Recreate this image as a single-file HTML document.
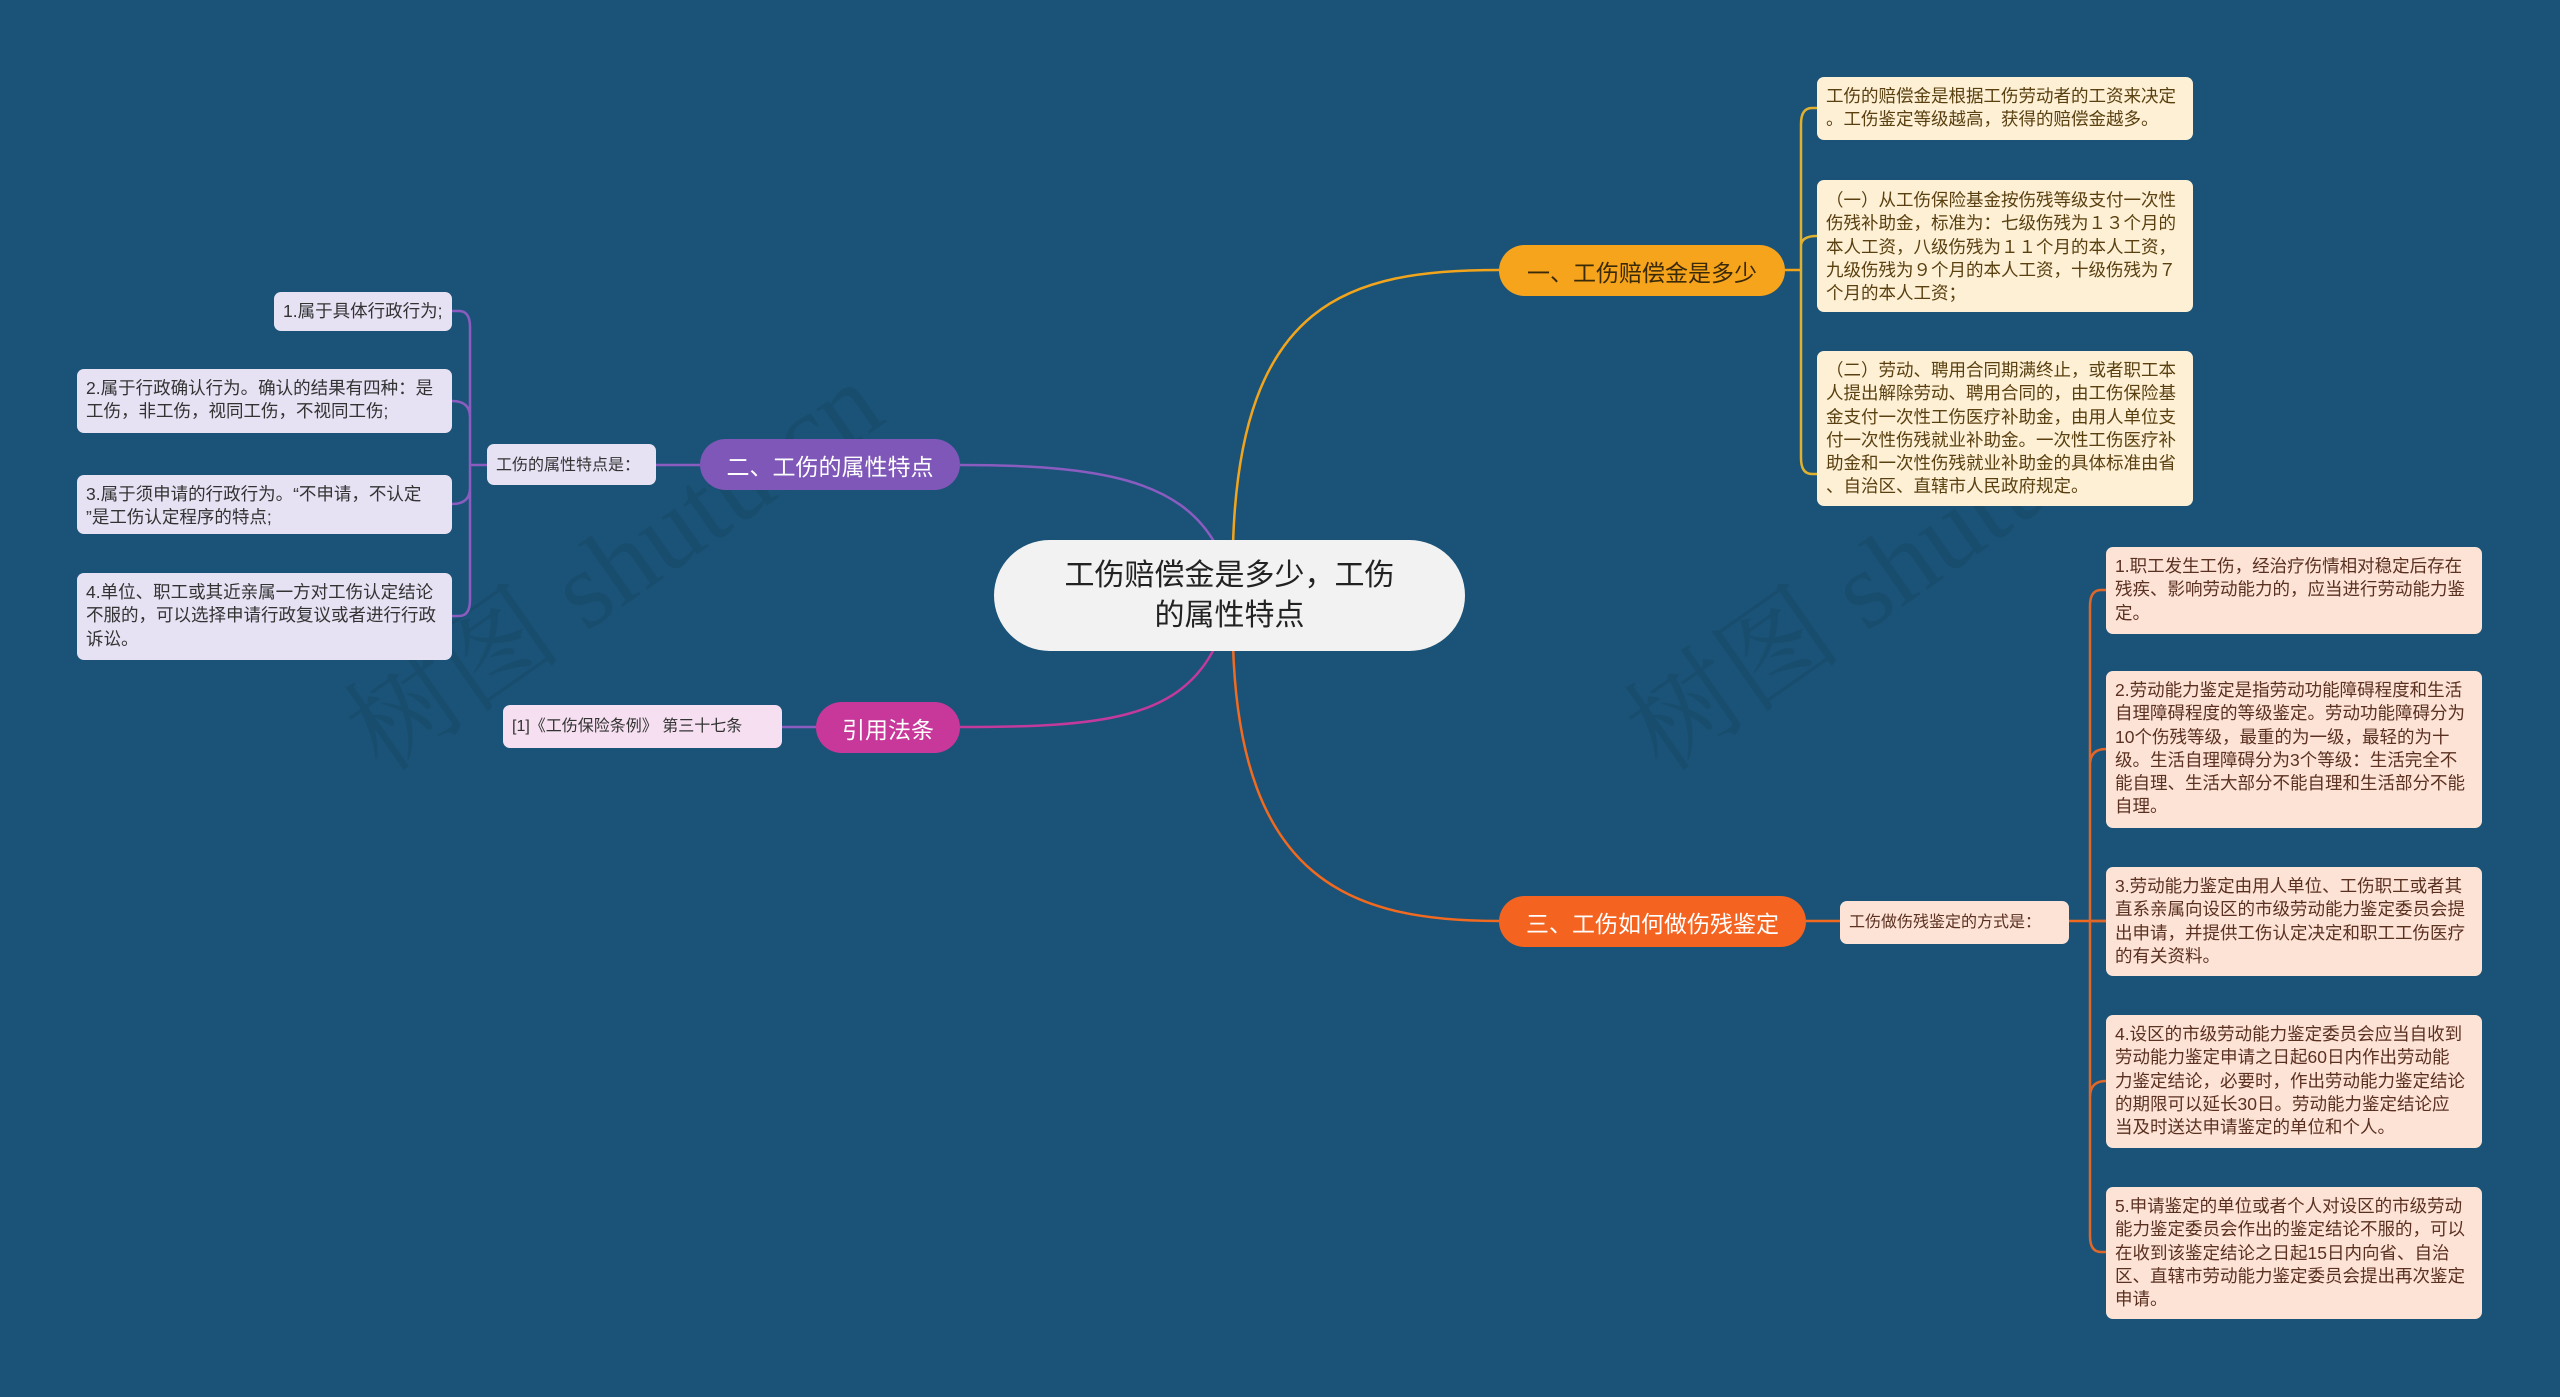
<!DOCTYPE html>
<html><head><meta charset="utf-8"><style>
body{margin:0;width:2560px;height:1397px;background:#1a5377;position:relative;overflow:hidden;font-family:"Liberation Sans","Noto Sans CJK SC",sans-serif;}
.n{position:absolute;box-sizing:border-box;white-space:nowrap;}
.leaf{font-size:17.5px;line-height:23.3px;padding:8px 9px;border-radius:7px;color:#333;}
.p{background:#e6e1f3;}
.y{background:#fdf0d5;color:#5a4010;}
.o{background:#fde3d6;color:#5a3020;}
.br{border-radius:28px;font-size:23px;display:flex;align-items:center;justify-content:center;}
.wm{position:absolute;font-family:"Liberation Serif","Noto Serif CJK SC",serif;font-size:110px;color:rgba(0,0,0,0.07);transform:rotate(-35deg);white-space:nowrap;}
</style></head><body>
<div class="wm" style="left:300px;top:480px;">树图 shutu.cn</div>
<div class="wm" style="left:1580px;top:480px;">树图 shutu.cn</div>
<svg width="2560" height="1397" style="position:absolute;left:0;top:0" fill="none" stroke-width="2.5">
<path d="M1233 545 C1240 300,1350 270,1499 270" stroke="#f2a51c"/>
<path d="M1233 645 C1240 880,1350 921,1499 921" stroke="#f26a1f"/>
<path d="M1216 545 C1180 480,1100 465,960 465" stroke="#8a5cc0"/>
<path d="M1216 645 C1180 720,1100 727,960 727" stroke="#c33a9c"/>
<path d="M1785 270 H1801" stroke="#f2a51c"/>
<path d="M1817 108 H1812 Q1801 108 1801 124 V458 Q1801 474 1812 474 H1817 M1801 246 Q1801 236 1817 236" stroke="#e0b030"/>
<path d="M1806 921 H1840 M2069 921 H2106" stroke="#f26a1f"/>
<path d="M2106 590 H2101 Q2090 590 2090 606 V1236 Q2090 1252 2101 1252 H2106 M2090 765 Q2090 749 2106 749 M2090 1097 Q2090 1081 2106 1081 M2090 921 H2106" stroke="#e0672a"/>
<path d="M656 465 H700 M782 727 H816" stroke="#8a5cc0"/>
<path d="M452 311 H459 Q470 311 470 327 V600 Q470 616 459 616 H452 M452 401 Q470 401 470 417 M452 504 Q470 504 470 488 M470 465 H487" stroke="#8a5cc0"/>
</svg>

<div class="n br" style="left:994px;top:540px;width:471px;height:111px;border-radius:56px;background:#f2f2f2;color:#222;font-size:30px;line-height:40px;text-align:center;">工伤赔偿金是多少，工伤<br>的属性特点</div>

<div class="n br" style="left:1499px;top:245px;width:286px;height:51px;background:#f7a41d;color:#3a2a08;">一、工伤赔偿金是多少</div>
<div class="n br" style="left:1499px;top:896px;width:307px;height:51px;background:#f46320;color:#fff;">三、工伤如何做伤残鉴定</div>
<div class="n br" style="left:700px;top:439px;width:260px;height:51px;background:#7e57b8;color:#fff;">二、工伤的属性特点</div>
<div class="n br" style="left:816px;top:702px;width:144px;height:51px;background:#c8379a;color:#fff;">引用法条</div>

<div class="n leaf p" style="left:487px;top:444px;width:169px;height:41px;font-size:16px;font-family:'Noto Sans CJK SC',sans-serif;">工伤的属性特点是：</div>
<div class="n leaf" style="left:503px;top:705px;width:279px;height:43px;background:#f5dff0;font-size:16px;padding-top:10px;">[1]《工伤保险条例》 第三十七条</div>

<div class="n leaf p" style="left:274px;top:292px;width:178px;height:39px;">1.属于具体行政行为;</div>
<div class="n leaf p" style="left:77px;top:369px;width:375px;height:64px;">2.属于行政确认行为。确认的结果有四种：是<br>工伤，非工伤，视同工伤，不视同工伤;</div>
<div class="n leaf p" style="left:77px;top:475px;width:375px;height:59px;">3.属于须申请的行政行为。“不申请，不认定<br>”是工伤认定程序的特点;</div>
<div class="n leaf p" style="left:77px;top:573px;width:375px;height:87px;">4.单位、职工或其近亲属一方对工伤认定结论<br>不服的，可以选择申请行政复议或者进行行政<br>诉讼。</div>

<div class="n leaf y" style="left:1817px;top:77px;width:376px;height:63px;">工伤的赔偿金是根据工伤劳动者的工资来决定<br>。工伤鉴定等级越高，获得的赔偿金越多。</div>
<div class="n leaf y" style="left:1817px;top:180px;width:376px;height:132px;padding-top:9px;">（一）从工伤保险基金按伤残等级支付一次性<br>伤残补助金，标准为：七级伤残为１３个月的<br>本人工资，八级伤残为１１个月的本人工资，<br>九级伤残为９个月的本人工资，十级伤残为７<br>个月的本人工资；</div>
<div class="n leaf y" style="left:1817px;top:351px;width:376px;height:155px;">（二）劳动、聘用合同期满终止，或者职工本<br>人提出解除劳动、聘用合同的，由工伤保险基<br>金支付一次性工伤医疗补助金，由用人单位支<br>付一次性伤残就业补助金。一次性工伤医疗补<br>助金和一次性伤残就业补助金的具体标准由省<br>、自治区、直辖市人民政府规定。</div>

<div class="n leaf o" style="left:1840px;top:901px;width:229px;height:43px;font-size:16px;padding-top:10px;font-family:'Noto Sans CJK SC',sans-serif;padding-top:8px;">工伤做伤残鉴定的方式是：</div>

<div class="n leaf o" style="left:2106px;top:547px;width:376px;height:87px;">1.职工发生工伤，经治疗伤情相对稳定后存在<br>残疾、影响劳动能力的，应当进行劳动能力鉴<br>定。</div>
<div class="n leaf o" style="left:2106px;top:671px;width:376px;height:157px;">2.劳动能力鉴定是指劳动功能障碍程度和生活<br>自理障碍程度的等级鉴定。劳动功能障碍分为<br>10个伤残等级，最重的为一级，最轻的为十<br>级。生活自理障碍分为3个等级：生活完全不<br>能自理、生活大部分不能自理和生活部分不能<br>自理。</div>
<div class="n leaf o" style="left:2106px;top:867px;width:376px;height:109px;">3.劳动能力鉴定由用人单位、工伤职工或者其<br>直系亲属向设区的市级劳动能力鉴定委员会提<br>出申请，并提供工伤认定决定和职工工伤医疗<br>的有关资料。</div>
<div class="n leaf o" style="left:2106px;top:1015px;width:376px;height:133px;">4.设区的市级劳动能力鉴定委员会应当自收到<br>劳动能力鉴定申请之日起60日内作出劳动能<br>力鉴定结论，必要时，作出劳动能力鉴定结论<br>的期限可以延长30日。劳动能力鉴定结论应<br>当及时送达申请鉴定的单位和个人。</div>
<div class="n leaf o" style="left:2106px;top:1187px;width:376px;height:132px;">5.申请鉴定的单位或者个人对设区的市级劳动<br>能力鉴定委员会作出的鉴定结论不服的，可以<br>在收到该鉴定结论之日起15日内向省、自治<br>区、直辖市劳动能力鉴定委员会提出再次鉴定<br>申请。</div>
</body></html>
